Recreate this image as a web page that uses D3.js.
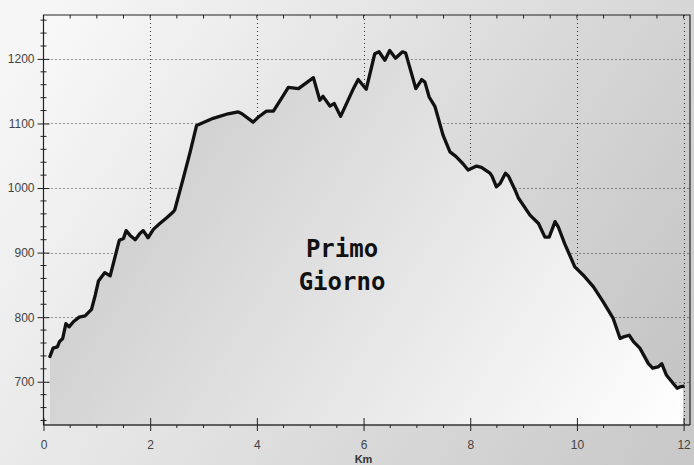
<!DOCTYPE html>
<html>
<head>
<meta charset="utf-8">
<script src="https://cdn.jsdelivr.net/npm/d3@7"></script>
<style>
body{margin:0;padding:0;overflow:hidden;}
</style>
</head>
<body>
<script>
let km=[0.12,0.18,0.26,0.30,0.36,0.42,0.48,0.56,0.67,0.78,0.90,0.97,1.03,1.15,1.25,1.34,1.42,1.50,1.55,1.62,1.72,1.81,1.87,1.96,2.06,2.18,2.31,2.43,2.46,2.62,2.75,2.87,3.18,3.46,3.65,3.72,3.93,4.03,4.18,4.31,4.50,4.59,4.78,5.06,5.18,5.24,5.37,5.45,5.57,5.81,5.90,6.05,6.21,6.29,6.40,6.49,6.60,6.73,6.79,6.98,7.09,7.15,7.23,7.34,7.49,7.62,7.73,7.86,7.96,8.12,8.21,8.37,8.41,8.49,8.56,8.66,8.72,8.84,8.90,9.12,9.28,9.40,9.48,9.59,9.65,9.77,9.96,10.12,10.31,10.49,10.68,10.81,10.86,10.98,11.06,11.18,11.34,11.42,11.52,11.59,11.68,11.81,11.88,11.93,11.99];
let quota=[739,752,754,762,767,790,785,793,800,802,812,834,856,869,864,893,919,922,934,927,920,930,934,923,936,945,954,963,966,1015,1056,1097,1108,1115,1118,1115,1102,1110,1119,1119,1144,1156,1154,1171,1136,1142,1127,1131,1111,1154,1168,1153,1208,1211,1198,1213,1201,1211,1209,1154,1168,1164,1141,1126,1082,1056,1049,1038,1028,1034,1032,1023,1018,1002,1007,1023,1018,997,985,958,945,924,924,948,940,914,878,865,847,824,798,767,769,772,762,752,728,721,723,728,710,697,690,692,693];
let xTicks=[0,2,4,6,8,10,12];
let yTicks=[700,800,900,1000,1100,1200];
let titleLines=["Primo","Giorno"];
let xLabel="Km";

let w=694,h=465;
let padL=43.5,padR=690,padT=15,padB=425;

let svg=d3.select("body").append("svg").attr("width",w).attr("height",h);
let defs=svg.append("defs");

function grad(id,c1,c2){
  let g=defs.append("linearGradient").attr("id",id).attr("gradientUnits","userSpaceOnUse")
    .attr("x1",padL).attr("y1",padT).attr("x2",padR).attr("y2",padB);
  g.append("stop").attr("offset","0%").attr("stop-color",c1);
  g.append("stop").attr("offset","100%").attr("stop-color",c2);
}
grad("pageBg","#f6f6f6","#c9c9c9");
grad("plotBg","#f9f9f9","#c2c2c2");
grad("areaBg","#c3c3c3","#ffffff");

svg.append("rect").attr("width",w).attr("height",h).attr("fill","url(#pageBg)");
svg.append("rect").attr("x",padL).attr("y",padT).attr("width",padR-padL).attr("height",padB-padT).attr("fill","url(#plotBg)");

let xScale=d3.scaleLinear().domain([0,12.12]).range([padL,padR]);
let yScale=d3.scaleLinear().domain([633,1268]).range([padB,padT]);

// dotted grid (hidden by the area)
let grid=svg.append("g").attr("stroke","#333").attr("stroke-width",1).attr("stroke-dasharray","1,3");
grid.selectAll(".gy").data(yTicks).enter().append("line")
  .attr("x1",padL).attr("x2",padR).attr("y1",d=>Math.round(yScale(d))+0.5).attr("y2",d=>Math.round(yScale(d))+0.5);
grid.selectAll(".gx").data(xTicks.slice(1)).enter().append("line")
  .attr("y1",padT).attr("y2",padB).attr("x1",d=>Math.round(xScale(d))+0.5).attr("x2",d=>Math.round(xScale(d))+0.5);

let pts=km.map((k,i)=>[k,quota[i]]);

let area=d3.area().x(d=>xScale(d[0])).y0(padB).y1(d=>yScale(d[1]));
svg.append("path").datum(pts).attr("d",area).attr("fill","url(#areaBg)");

let line=d3.line().x(d=>xScale(d[0])).y(d=>yScale(d[1]));
svg.append("path").datum(pts).attr("d",line).attr("fill","none").attr("stroke","#111")
  .attr("stroke-width",3.3).attr("stroke-linejoin","round").attr("stroke-linecap","round");

// frame
svg.append("path").attr("d",`M${padL},${padB}V${padT}H${padR}V${padB}`).attr("fill","none").attr("stroke","#222").attr("stroke-width",1.2);
svg.append("line").attr("x1",padL).attr("x2",padR).attr("y1",padB).attr("y2",padB).attr("stroke","#333").attr("stroke-width",1.5);

let minorX=d3.range(0.5,12.1,0.5).filter(d=>d%2!=0);
let minorY=d3.range(640,1268,20).filter(d=>d%100!=0);

let xAxis=d3.axisBottom(xScale).tickValues(xTicks).tickFormat(d3.format("d")).tickSize(6).tickPadding(9);
let gx=svg.append("g").attr("transform",`translate(0,${padB})`).call(xAxis);
gx.select(".domain").remove();
gx.selectAll(".tick line").attr("y1",-7).attr("y2",6).attr("stroke","#222");
gx.selectAll("text").style("font","12px 'Liberation Sans', Arial, sans-serif").attr("fill","#444");
gx.selectAll(".mx").data(minorX).enter().append("line")
  .attr("x1",d=>xScale(d)).attr("x2",d=>xScale(d)).attr("y1",0).attr("y2",3).attr("stroke","#222");

// little ticks hanging from the top frame
svg.append("g").selectAll("line").data(minorX.concat(xTicks)).enter().append("line")
  .attr("x1",d=>xScale(d)).attr("x2",d=>xScale(d)).attr("y1",padT).attr("y2",padT+3.5).attr("stroke","#222");

let yAxis=d3.axisLeft(yScale).tickValues(yTicks).tickFormat(d3.format("d")).tickSize(6).tickPadding(3);
let gy=svg.append("g").attr("transform",`translate(${padL},0)`).call(yAxis);
gy.select(".domain").remove();
gy.selectAll(".tick line").attr("x1",-6).attr("x2",6).attr("stroke","#222");
gy.selectAll("text").style("font","12px 'Liberation Sans', Arial, sans-serif").attr("fill","#444");
gy.selectAll(".my").data(minorY).enter().append("line")
  .attr("y1",d=>yScale(d)).attr("y2",d=>yScale(d)).attr("x1",-3).attr("x2",3).attr("stroke","#222");

svg.append("text").attr("x",xScale(6)).attr("y",463).attr("text-anchor","middle")
  .style("font","bold 11px 'Liberation Sans', Arial, sans-serif").attr("fill","#333").text(xLabel);

svg.append("g").selectAll("text").data(titleLines).enter().append("text")
  .attr("x",342).attr("y",(d,i)=>257+i*33).attr("text-anchor","middle")
  .style("font","bold 24px 'DejaVu Sans Mono', monospace").attr("fill","#111").text(d=>d);
</script>
</body>
</html>
